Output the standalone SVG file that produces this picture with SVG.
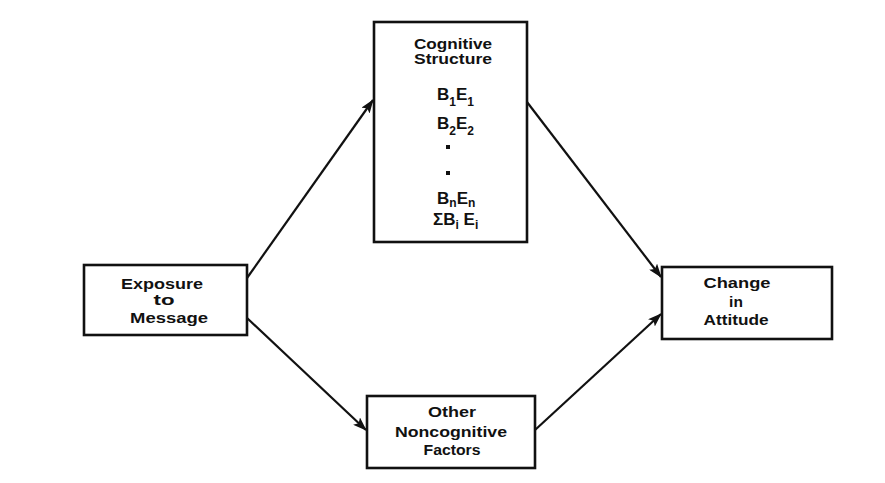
<svg xmlns="http://www.w3.org/2000/svg" width="885" height="483" viewBox="0 0 885 483">
  <style>
    .box { fill: #ffffff; stroke: #111111; stroke-width: 2.6; }
    .lbl { font-family: "Liberation Sans", Arial, sans-serif; font-size: 15.5px; font-weight: bold; fill: #111111; text-anchor: middle; }
    .fml { font-family: "Liberation Sans", Arial, sans-serif; font-size: 17px; font-weight: bold; fill: #111111; }
    .sub { font-size: 12px; }
    .edge { fill: none; stroke: #111111; stroke-width: 2.2; marker-end: url(#arrow); }
  </style>
  <defs>
    <marker id="arrow" markerUnits="userSpaceOnUse" viewBox="0 0 14 10" markerWidth="14" markerHeight="10" refX="13" refY="5" orient="auto">
      <path d="M0,0 L14,5 L0,10 L3,5 z" fill="#111111"/>
    </marker>
  </defs>
  <rect width="885" height="483" fill="#ffffff"/>

  <g id="connectors">
    <line class="edge" x1="247" y1="278" x2="373" y2="100"/>
    <line class="edge" x1="527" y1="102" x2="661" y2="277"/>
    <line class="edge" x1="247" y1="318" x2="366" y2="430"/>
    <line class="edge" x1="535" y1="430" x2="661" y2="314"/>
  </g>

  <g id="cognitive-structure">
    <rect class="box" x="374" y="22" width="153" height="220"/>
    <text class="lbl" x="453" y="48.5" textLength="78" lengthAdjust="spacingAndGlyphs">Cognitive</text>
    <text class="lbl" x="453" y="64" textLength="78" lengthAdjust="spacingAndGlyphs">Structure</text>
    <text class="fml" x="437" y="100">B<tspan class="sub" dy="6">1</tspan><tspan dy="-6">E</tspan><tspan class="sub" dy="6">1</tspan></text>
    <text class="fml" x="437" y="128.5">B<tspan class="sub" dy="6">2</tspan><tspan dy="-6">E</tspan><tspan class="sub" dy="6">2</tspan></text>
    <rect x="446" y="145" width="4" height="4" fill="#111111"/>
    <rect x="446" y="171" width="4" height="4" fill="#111111"/>
    <text class="fml" x="437" y="204">B<tspan class="sub" dy="3">n</tspan><tspan dy="-3">E</tspan><tspan class="sub" dy="3">n</tspan></text>
    <text class="fml" x="433" y="225">ΣB<tspan class="sub" dy="4">i</tspan><tspan dy="-4"> E</tspan><tspan class="sub" dy="4">i</tspan></text>
  </g>

  <g id="exposure">
    <rect class="box" x="84" y="265" width="163" height="70"/>
    <text class="lbl" x="162" y="288.5" textLength="82" lengthAdjust="spacingAndGlyphs">Exposure</text>
    <text class="lbl" x="164" y="305" textLength="21" lengthAdjust="spacingAndGlyphs">to</text>
    <text class="lbl" x="169" y="322.5" textLength="78" lengthAdjust="spacingAndGlyphs">Message</text>
  </g>

  <g id="change-in-attitude">
    <rect class="box" x="662" y="267" width="170" height="72"/>
    <text class="lbl" x="737" y="288" textLength="67" lengthAdjust="spacingAndGlyphs">Change</text>
    <text class="lbl" x="736" y="307">in</text>
    <text class="lbl" x="736" y="325" textLength="65" lengthAdjust="spacingAndGlyphs">Attitude</text>
  </g>

  <g id="other-factors">
    <rect class="box" x="367" y="396" width="168" height="72"/>
    <text class="lbl" x="452" y="417" textLength="48" lengthAdjust="spacingAndGlyphs">Other</text>
    <text class="lbl" x="451" y="437" textLength="112" lengthAdjust="spacingAndGlyphs">Noncognitive</text>
    <text class="lbl" x="452" y="455" textLength="57" lengthAdjust="spacingAndGlyphs">Factors</text>
  </g>
</svg>
